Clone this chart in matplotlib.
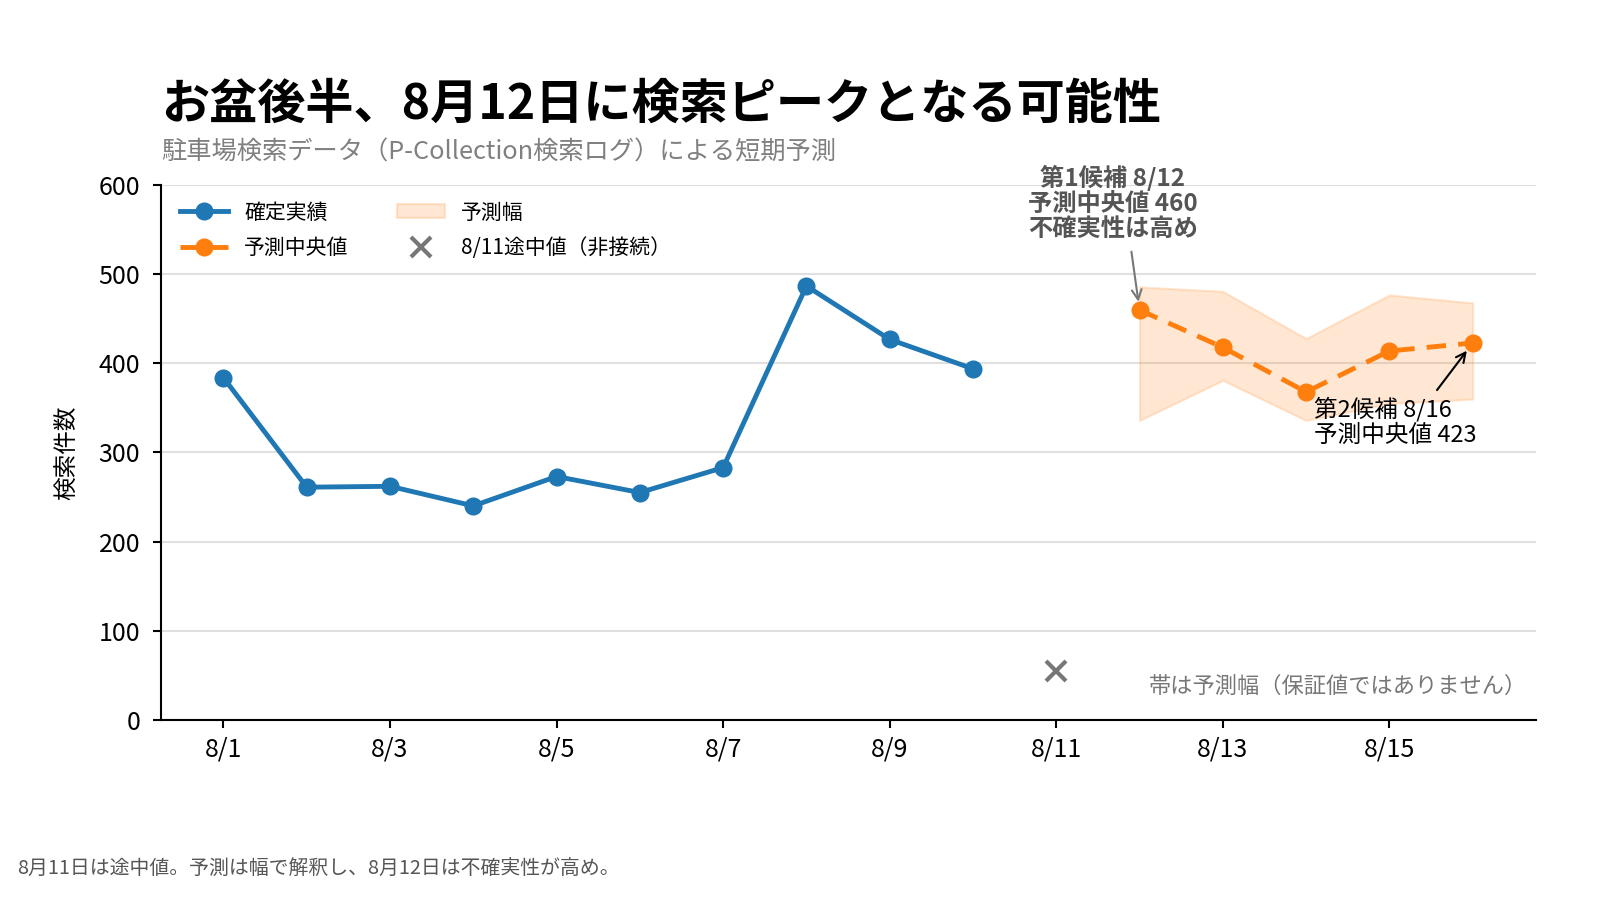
import matplotlib
matplotlib.use("Agg")
import matplotlib.pyplot as plt
import numpy as np

plt.rcParams['font.family'] = ['Noto Sans CJK JP', 'DejaVu Sans']

# data
days = ["8/1", "8/2", "8/3", "8/4", "8/5", "8/6", "8/7", "8/8", "8/9", "8/10",
        "8/11", "8/12", "8/13", "8/14", "8/15", "8/16"]
actual = [384, 261, 262, 240, 273, 255, 283, 487, 427, 394]
partial_811 = 55
forecast = [460, 418, 368, 414, 423]
band_upper = [486, 481, 428, 477, 468]
band_lower = [336, 381, 336, 355, 360]

x = np.arange(len(days))
x_act = x[:10]
x_part = x[10]
x_fc = x[11:]

BLUE = "#1f77b4"
ORANGE = "#ff7f0e"
GRAY = "#777777"

fig = plt.figure(figsize=(16, 9), dpi=100)
ax = fig.add_axes([0.1006, 0.2005, 0.8594, 0.5935])

ax.fill_between(x_fc, band_lower, band_upper, color=ORANGE, alpha=0.18,
                edgecolor=ORANGE, linewidth=1.5, label="予測幅", zorder=1)
ax.plot(x_act, actual, color=BLUE, lw=3.5, marker="o", ms=12,
        label="確定実績", zorder=3)
ax.plot(x_fc, forecast, color=ORANGE, lw=3.5, ls=(0, (4, 2.5)), marker="o", ms=12,
        label="予測中央値", zorder=3)
ax.plot([x_part], [partial_811], ls="none", marker="x", ms=15, mew=3,
        color=GRAY, label="8/11途中値（非接続）", zorder=3)

ax.set_xlim(-0.75, 15.76)
ax.set_ylim(0, 600)
ax.set_yticks(range(0, 601, 100))
ax.set_xticks(x[::2])
ax.set_xticklabels(days[::2])
ax.tick_params(axis="both", labelsize=18, length=6, width=1.5)
ax.tick_params(axis="x", pad=6)
ax.tick_params(axis="y", pad=9)
ax.grid(axis="y", color="#e0e0e0", lw=1.5)
ax.set_axisbelow(True)
for s in ["top", "right"]:
    ax.spines[s].set_visible(False)
for s in ["left", "bottom"]:
    ax.spines[s].set_linewidth(1.5)
ax.set_ylabel("検索件数", fontsize=17, labelpad=14)

handles, labels = ax.get_legend_handles_labels()
order = [labels.index(l) for l in ["確定実績", "予測中央値", "予測幅", "8/11途中値（非接続）"]]
ax.legend([handles[i] for i in order], [labels[i] for i in order],
          ncol=2, loc="upper left", bbox_to_anchor=(0.0, 1.005),
          frameon=False, fontsize=15, handlelength=2.3, columnspacing=2.3,
          labelspacing=0.65)

# annotations
ax.annotate("第1候補 8/12\n予測中央値 460\n不確実性は高め",
            xy=(x_fc[0], forecast[0]), xytext=(10.68, 538),
            ha="center", va="bottom", fontsize=17.5, fontweight="bold",
            color="#555555", linespacing=1.05, annotation_clip=False,
            arrowprops=dict(arrowstyle="->", color=GRAY, lw=1.5,
                            relpos=(0.6, 0.0), shrinkA=6, shrinkB=6))
ax.annotate("第2候補 8/16\n予測中央値 423",
            xy=(x_fc[-1], forecast[-1]), xytext=(13.1, 362),
            ha="left", va="top", fontsize=17, color="black", linespacing=1.1,
            arrowprops=dict(arrowstyle="->", color="black", lw=1.5,
                            relpos=(0.72, 1.0), shrinkA=4, shrinkB=7))

ax.text(0.9935, 0.063, "帯は予測幅（保証値ではありません）", transform=ax.transAxes,
        ha="right", va="center", fontsize=16, color=GRAY)

fig.text(0.101, 0.884, "お盆後半、8月12日に検索ピークとなる可能性",
         fontsize=34.7, fontweight="bold", ha="left", va="center")
fig.text(0.101, 0.831, "駐車場検索データ（P-Collection検索ログ）による短期予測",
         fontsize=18.2, color="#808080", ha="left", va="center")
fig.text(0.011, 0.034, "8月11日は途中値。予測は幅で解釈し、8月12日は不確実性が高め。",
         fontsize=14.3, color="#555555", ha="left", va="center")

fig.savefig("out.png", dpi=100)
